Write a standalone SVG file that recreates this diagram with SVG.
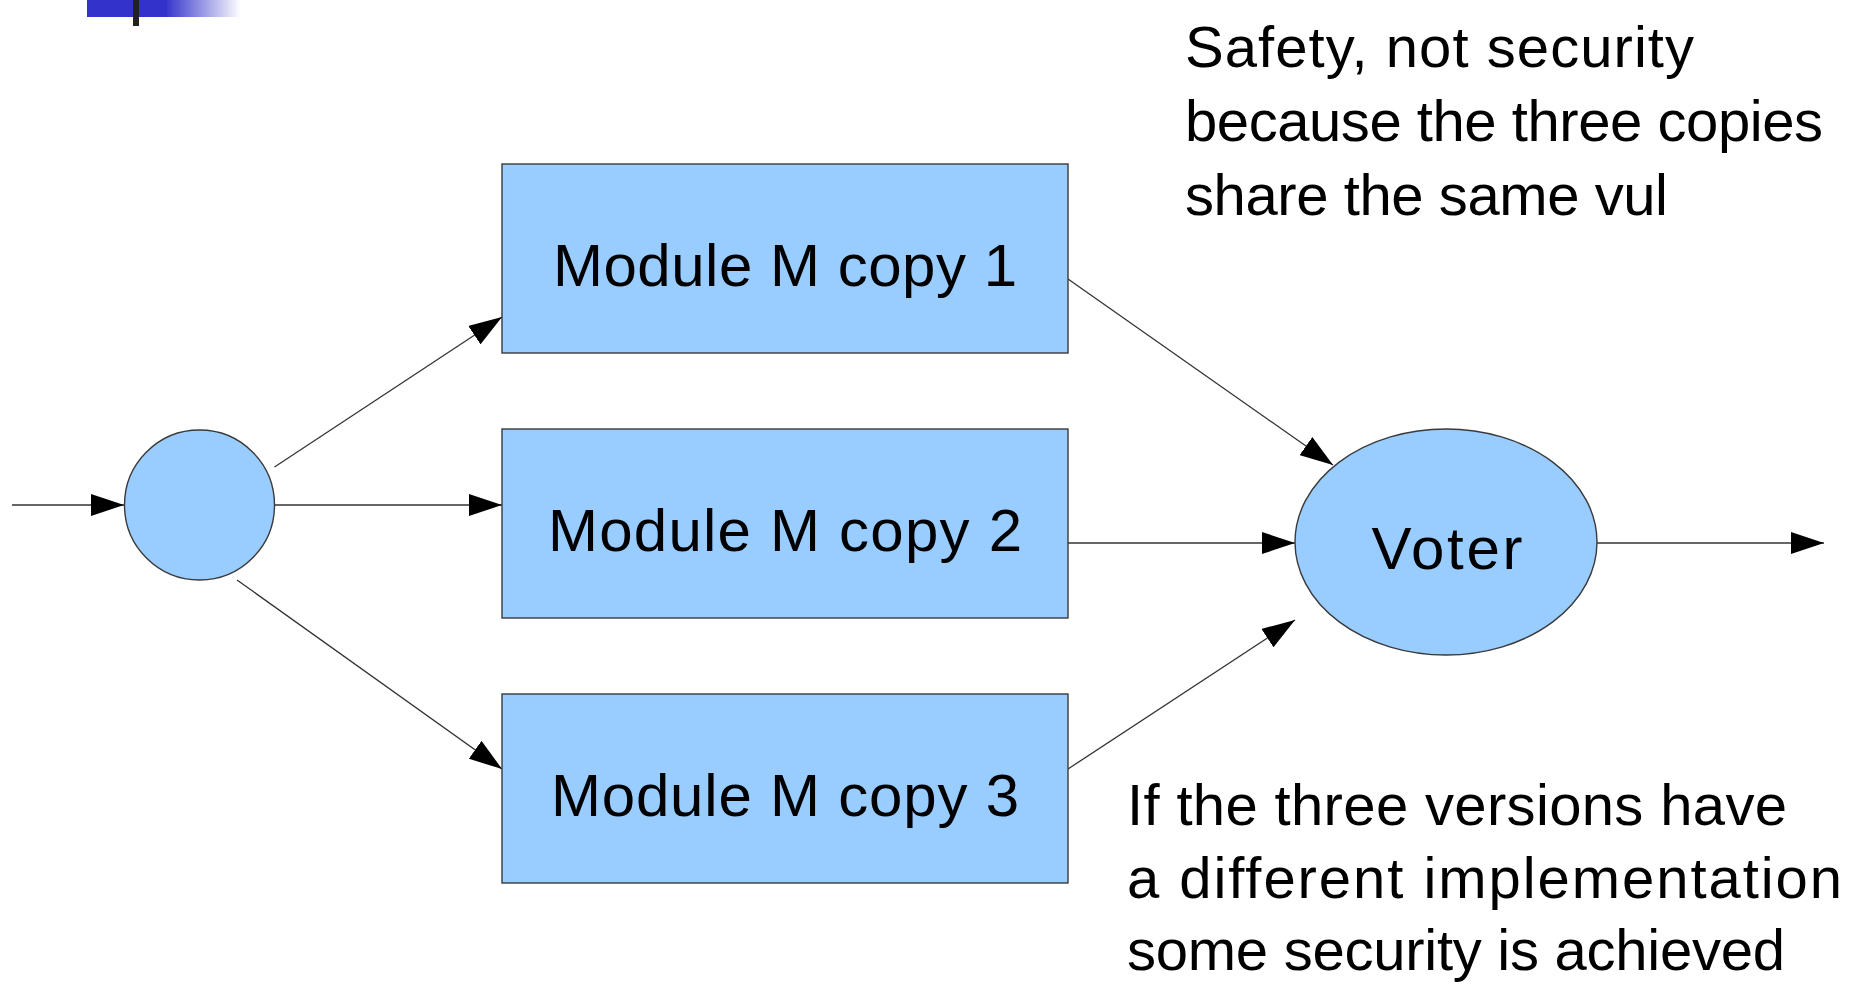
<svg xmlns="http://www.w3.org/2000/svg" width="1855" height="995" viewBox="0 0 1855 995">
<style>
.node{fill:#99ccff;stroke:#3a3a3a;stroke-width:1.4}
.lbl{font-family:"Liberation Sans",Arial,sans-serif;font-size:60px;fill:#000;text-anchor:middle}
.note{font-family:"Liberation Sans",Arial,sans-serif;font-size:58px;fill:#000}
.conn line{stroke:#333;stroke-width:1.3;fill:none;marker-end:url(#ah)}
</style>
<defs>
<marker id="ah" markerUnits="userSpaceOnUse" markerWidth="34" markerHeight="22" refX="33" refY="11" orient="auto">
<path d="M0,0 L33,11 L0,22 z" fill="#000"/>
</marker>
<linearGradient id="fade" x1="0" y1="0" x2="1" y2="0">
<stop offset="0" stop-color="#3333cc"/>
<stop offset="1" stop-color="#3333cc" stop-opacity="0"/>
</linearGradient>
</defs>
<rect width="1855" height="995" fill="#fff"/>
<g id="decor">
<rect x="87" y="0" width="80" height="17" fill="#3333cc"/>
<rect x="165" y="0" width="76" height="17" fill="url(#fade)"/>
<rect x="133" y="0" width="6" height="26" fill="#222"/>
</g>
<g class="conn" id="connectors">
<line x1="12" y1="505" x2="124" y2="505"/>
<line x1="274.5" y1="467" x2="502" y2="317"/>
<line x1="275" y1="505" x2="502" y2="505"/>
<line x1="237" y1="580" x2="502" y2="769"/>
<line x1="1068" y1="279" x2="1333" y2="465"/>
<line x1="1068" y1="543" x2="1295" y2="543"/>
<line x1="1068" y1="769" x2="1295" y2="620"/>
<line x1="1597" y1="543" x2="1824" y2="543"/>
</g>
<g id="splitter">
<circle class="node" cx="199.5" cy="505" r="75"/>
</g>
<g id="copy1">
<rect class="node" x="502" y="164" width="566" height="189"/>
<text class="lbl" x="785" y="286" textLength="464">Module M copy 1</text>
</g>
<g id="copy2">
<rect class="node" x="502" y="429" width="566" height="189"/>
<text class="lbl" x="785" y="551" textLength="474">Module M copy 2</text>
</g>
<g id="copy3">
<rect class="node" x="502" y="694" width="566" height="189"/>
<text class="lbl" x="785" y="816" textLength="468">Module M copy 3</text>
</g>
<g id="voter">
<ellipse class="node" cx="1446" cy="542" rx="151" ry="113"/>
<text class="lbl" x="1447" y="569" textLength="151">Voter</text>
</g>
<g id="note-top">
<text class="note" x="1185" y="67" textLength="509">Safety, not security</text>
<text class="note" x="1185" y="141" textLength="638">because the three copies</text>
<text class="note" x="1185" y="215" textLength="483">share the same vul</text>
</g>
<g id="note-bottom">
<text class="note" x="1127" y="825" textLength="660">If the three versions have</text>
<text class="note" x="1127" y="898" textLength="715">a different implementation</text>
<text class="note" x="1127" y="970" textLength="658">some security is achieved</text>
</g>
</svg>
